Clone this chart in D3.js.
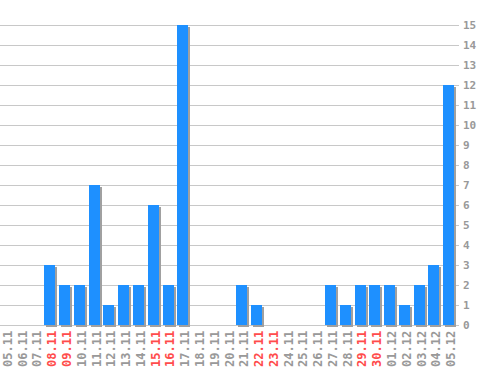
<!DOCTYPE html>
<html>
<head>
<meta charset="utf-8">
<script src="https://cdn.jsdelivr.net/npm/d3@7"></script>
<style>
  body { margin: 0; background: #fff; }
  text { font-family: "DejaVu Sans Mono", monospace; font-weight: bold; }
</style>
</head>
<body>
<svg id="chart" width="498" height="370"></svg>
<script>
var days = ["05.11","06.11","07.11","08.11","09.11","10.11","11.11","12.11","13.11","14.11",
            "15.11","16.11","17.11","18.11","19.11","20.11","21.11","22.11","23.11","24.11",
            "25.11","26.11","27.11","28.11","29.11","30.11","01.12","02.12","03.12","04.12","05.12"];
var counts = [0,0,0,3,2,2,7,1,2,2,6,2,15,0,0,0,2,1,0,0,0,0,2,1,2,2,2,1,2,3,12];
var weekend = ["08.11","09.11","15.11","16.11","22.11","23.11","29.11","30.11"];
var yTicks = d3.range(0, 16);

var svg = d3.select("#chart");

var x = d3.scaleBand().domain(days).range([0, 458]);
var y = d3.scaleLinear().domain([0, 15]).range([325, 25]);
var bw = 11;

// grid
svg.selectAll("line.grid")
    .data(yTicks)
    .enter()
    .append("line")
    .attr("x1", 0)
    .attr("x2", 459)
    .attr("y1", function(d) { return y(d) + 0.5; })
    .attr("y2", function(d) { return y(d) + 0.5; })
    .attr("stroke", "#c8c8c8")
    .attr("stroke-width", 1);

// y labels on the right
svg.selectAll("text.ylab")
    .data(yTicks)
    .enter()
    .append("text")
    .attr("x", 463)
    .attr("y", function(d) { return y(d) + 4; })
    .attr("fill", "#999")
    .style("font-size", "11px")
    .text(function(d) { return d; });

var bars = days.map(function(d, i) { return { day: d, v: counts[i] }; })
    .filter(function(d) { return d.v > 0; });

// shadows
svg.selectAll("rect.shadow")
    .data(bars)
    .enter()
    .append("rect")
    .attr("x", function(d) { return Math.round(x(d.day)) + 2; })
    .attr("y", function(d) { return y(d.v) + 2; })
    .attr("width", bw)
    .attr("height", function(d) { return 325 - y(d.v); })
    .attr("fill", "#a0a0a0");

svg.selectAll("rect.bar")
    .data(bars)
    .enter()
    .append("rect")
    .attr("x", function(d) { return Math.round(x(d.day)); })
    .attr("y", function(d) { return y(d.v); })
    .attr("width", bw)
    .attr("height", function(d) { return 325 - y(d.v); })
    .attr("fill", "#1e90ff");

// x labels rotated
svg.selectAll("text.xlab")
    .data(days)
    .enter()
    .append("text")
    .attr("transform", function(d) {
        return "translate(" + (x(d) + x.bandwidth() / 2 + 4.5) + ",367) rotate(-90)";
    })
    .attr("fill", function(d) { return weekend.indexOf(d) >= 0 ? "#ff4c4c" : "#999"; })
    .style("font-size", "12px")
    .text(function(d) { return d; });
</script>
</body>
</html>
